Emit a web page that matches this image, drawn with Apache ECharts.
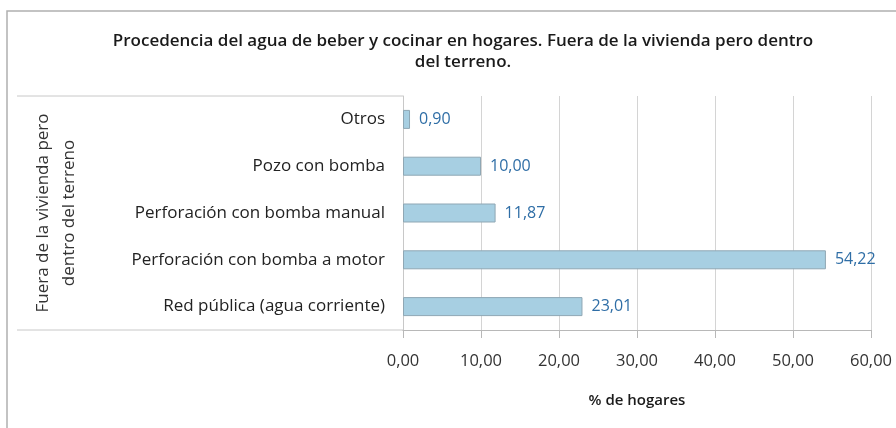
<!DOCTYPE html>
<html><head><meta charset="utf-8">
<script src="https://cdn.jsdelivr.net/npm/echarts@6/dist/echarts.min.js"></script>
<style>html,body{margin:0;padding:0;background:#fff}#c{width:896px;height:428px}</style>
</head><body><div id="c"></div>
<script>
var categories = ['Red pública (agua corriente)', 'Perforación con bomba a motor', 'Perforación con bomba manual', 'Pozo con bomba', 'Otros'];
var values = [23.01, 54.22, 11.87, 10.00, 0.90];
var xTicks = {min: 0, max: 60, interval: 10};
var titleText = 'Procedencia del agua de beber y cocinar en hogares. Fuera de la vivienda pero dentro\ndel terreno.';
var yName = 'Fuera de la vivienda pero\ndentro del terreno';
var xName = '% de hogares';

var fmt = function (v) { return v.toFixed(2).replace('.', ','); };
var FONT = 'Open Sans';
var chart = echarts.init(document.getElementById('c'));
chart.setOption({
  animation: false,
  textStyle: {fontFamily: FONT},
  title: {
    text: titleText, left: 458, textAlign: 'center', top: 26,
    textStyle: {fontFamily: FONT, fontSize: 17, fontWeight: 600, color: '#1a1a1a', lineHeight: 21}
  },
  grid: {left: 403, right: 25, top: 96, bottom: 98, containLabel: false},
  xAxis: {
    type: 'value', min: xTicks.min, max: xTicks.max, interval: xTicks.interval,
    name: xName, nameLocation: 'middle', nameGap: 63,
    nameTextStyle: {fontFamily: FONT, fontSize: 15, fontWeight: 600, color: '#1a1a1a'},
    axisLine: {show: true, lineStyle: {color: '#b8b8b8'}},
    axisTick: {show: true, length: 8, lineStyle: {color: '#b8b8b8'}},
    axisLabel: {formatter: fmt, fontFamily: FONT, fontSize: 16.5, color: '#333', margin: 23},
    splitLine: {show: true, lineStyle: {color: '#d4d4d4'}}
  },
  yAxis: {
    type: 'category', data: categories,
    name: yName, nameLocation: 'middle', nameGap: 321, nameRotate: 90,
    nameTextStyle: {fontFamily: FONT, fontSize: 17, color: '#333', lineHeight: 26},
    axisLine: {show: true, lineStyle: {color: '#c8c8c8'}},
    axisTick: {show: false},
    axisLabel: {fontFamily: FONT, fontSize: 17, color: '#222', margin: 18}
  },
  series: [{
    type: 'bar', data: values, barWidth: 19,
    itemStyle: {color: '#a7cfe2', borderColor: '#8fa7b4', borderWidth: 1},
    label: {show: true, position: 'right', distance: 9, formatter: function (p) { return fmt(p.value); },
      fontFamily: FONT, fontSize: 16, color: '#2f6ea6'}
  }],
  graphic: [
    {type: 'rect', shape: {x: 7, y: 11, width: 900, height: 430}, style: {fill: 'none', stroke: '#b0b0b0', lineWidth: 1.5}, silent: true},
    {type: 'line', shape: {x1: 17, y1: 96, x2: 403, y2: 96}, style: {stroke: '#c8c8c8', lineWidth: 1}, silent: true},
    {type: 'line', shape: {x1: 17, y1: 330, x2: 403, y2: 330}, style: {stroke: '#c8c8c8', lineWidth: 1}, silent: true}
  ]
});
</script></body></html>
